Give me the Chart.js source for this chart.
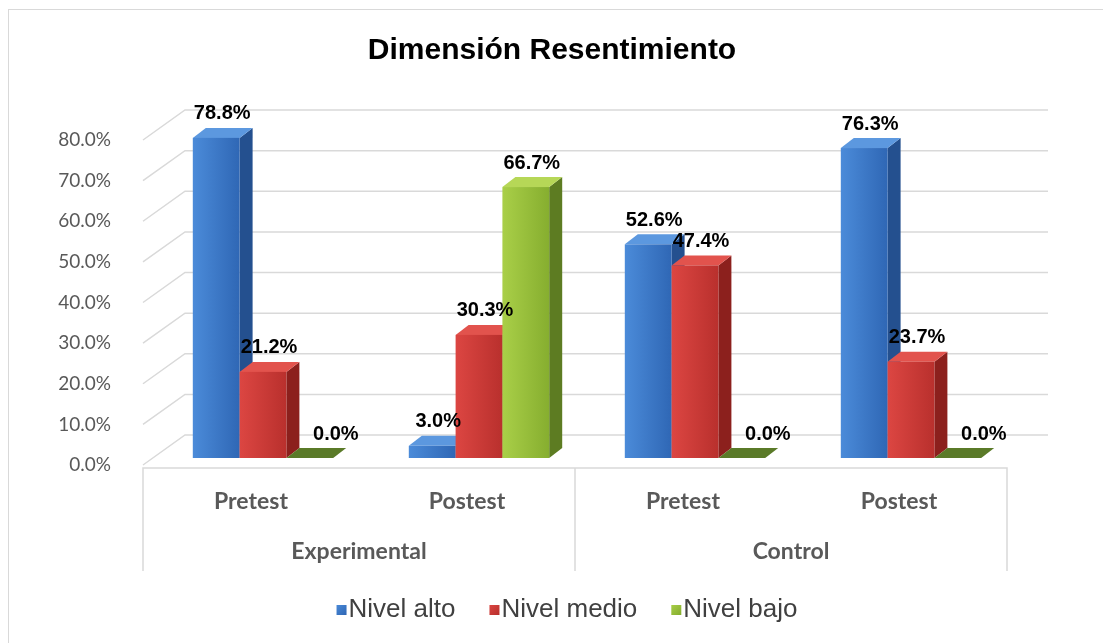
<!DOCTYPE html>
<html>
<head>
<meta charset="utf-8">
<script src="https://cdn.jsdelivr.net/npm/chart.js@4"></script>
<style>
  html, body { margin: 0; padding: 0; background: #ffffff; }
  #grafico { display: block; }
</style>
</head>
<body>
<canvas id="grafico" width="1103" height="643"></canvas>
<script>
const titulo = "Dimensión Resentimiento";
const categorias = ["Pretest", "Postest", "Pretest", "Postest"];
const grupos = ["Experimental", "Control"];
const nivelAlto = [78.8, 3.0, 52.6, 76.3];
const nivelMedio = [21.2, 30.3, 47.4, 23.7];
const nivelBajo = [0.0, 66.7, 0.0, 0.0];
const yMin = 0, yMax = 80, yPaso = 10;

// colores de cada serie: frente (izq, der), lado, tapa
const colores = [
  { front: ["#4b8bd9", "#2f67b5"], side: "#24508f", top: "#5c98df", flat: "#2f67b5" },
  { front: ["#dc4642", "#b9302d"], side: "#8c201d", top: "#e2534d", flat: "#b9302d" },
  { front: ["#a9cf48", "#86ae2f"], side: "#5d7c22", top: "#b6d757", flat: "#5a7a28" }
];

const OX = 12, OY = -7;      // desplazamiento de las barras respecto al plano frontal
const DX = 13, DY = -10;     // profundidad de cada barra
const PX = 42, PY = -30;     // profundidad de la pared del fondo
const gris = "#d9d9d9";

const fondo3d = {
  id: "fondo3d",
  beforeDraw(chart) {
    const ctx = chart.ctx;
    ctx.save();
    ctx.strokeStyle = "#d9d9d9";
    ctx.lineWidth = 1;
    ctx.strokeRect(8.5, 9.5, 1200, 700);
    ctx.restore();
  },
  beforeDatasetsDraw(chart) {
    const ctx = chart.ctx;
    const a = chart.chartArea;
    const y = chart.scales.y;
    const x = chart.scales.x;
    ctx.save();
    ctx.strokeStyle = gris;
    ctx.lineWidth = 1.5;
    y.ticks.forEach(t => {
      const py = y.getPixelForValue(t.value);
      ctx.beginPath();
      ctx.moveTo(a.left, py);
      ctx.lineTo(a.left + PX, py + PY);
      ctx.lineTo(a.right + PX - 1, py + PY);
      ctx.stroke();
    });
    // caja de categorias
    const bottom = a.bottom + 3;
    const fin = bottom + 103;
    const medio = (x.getPixelForValue(1) + x.getPixelForValue(2)) / 2;
    ctx.beginPath();
    ctx.moveTo(a.left, fin);
    ctx.lineTo(a.left, bottom);
    ctx.lineTo(a.right, bottom);
    ctx.lineTo(a.right, fin);
    ctx.moveTo(medio, bottom);
    ctx.lineTo(medio, fin);
    ctx.stroke();

    // etiquetas de categorias y grupos
    ctx.fillStyle = "#595959";
    ctx.textAlign = "center";
    ctx.textBaseline = "middle";
    ctx.font = "bold 23px Lato";
    categorias.forEach((c, i) => {
      ctx.fillText(c, x.getPixelForValue(i), bottom + 34);
    });
    grupos.forEach((g, i) => {
      const cx = (x.getPixelForValue(i * 2) + x.getPixelForValue(i * 2 + 1)) / 2;
      ctx.fillText(g, cx, bottom + 84);
    });

    // titulo
    ctx.fillStyle = "#000000";
    ctx.font = "bold 30px 'Liberation Sans', Arial";
    ctx.fillText(titulo, 552, 51);
    ctx.restore();
  },
  afterDatasetsDraw(chart) {
    const ctx = chart.ctx;
    ctx.save();
    chart.data.datasets.forEach((ds, di) => {
      const meta = chart.getDatasetMeta(di);
      const col = colores[di];
      meta.data.forEach(el => {
        const p = el.getProps(["x", "y", "base", "width"], true);
        const l = p.x - p.width / 2 + OX;
        const r = p.x + p.width / 2 + OX;
        const t = p.y + OY;
        const b = p.base + OY;
        if (b - t < 1) {
          ctx.fillStyle = col.flat;
          ctx.beginPath();
          ctx.moveTo(l, b);
          ctx.lineTo(l + DX, b + DY);
          ctx.lineTo(r + DX, b + DY);
          ctx.lineTo(r, b);
          ctx.closePath();
          ctx.fill();
          return;
        }
        // lado
        ctx.fillStyle = col.side;
        ctx.beginPath();
        ctx.moveTo(r, b);
        ctx.lineTo(r + DX, b + DY);
        ctx.lineTo(r + DX, t + DY);
        ctx.lineTo(r, t);
        ctx.closePath();
        ctx.fill();
        // tapa
        ctx.fillStyle = col.top;
        ctx.beginPath();
        ctx.moveTo(l, t);
        ctx.lineTo(l + DX, t + DY);
        ctx.lineTo(r + DX, t + DY);
        ctx.lineTo(r, t);
        ctx.closePath();
        ctx.fill();
        // frente
        const g = ctx.createLinearGradient(l, 0, r, 0);
        g.addColorStop(0, col.front[0]);
        g.addColorStop(1, col.front[1]);
        ctx.fillStyle = g;
        ctx.fillRect(l, t, r - l, b - t);
      });
    });

    // etiquetas de datos
    ctx.fillStyle = "#000000";
    ctx.font = "bold 20px 'Liberation Sans', Arial";
    ctx.textAlign = "center";
    ctx.textBaseline = "middle";
    chart.data.datasets.forEach((ds, di) => {
      const meta = chart.getDatasetMeta(di);
      meta.data.forEach((el, i) => {
        const v = ds.data[i];
        const p = el.getProps(["x", "y"], true);
        const extra = v === 0 ? 20 : 0;
        ctx.fillText(v.toFixed(1) + "%", p.x + OX + 6 + extra, p.y + OY - 24);
      });
    });

    // leyenda
    ctx.font = "26px 'Liberation Sans', Arial";
    ctx.textAlign = "left";
    const anchos = chart.data.datasets.map(ds => 12 + ctx.measureText(ds.label).width);
    const sep = 34;
    const total = anchos.reduce((s, w) => s + w, 0) + sep * (anchos.length - 1);
    let lx = 567 - total / 2;
    const ly = 609;
    chart.data.datasets.forEach((ds, di) => {
      const col = colores[di];
      const g = ctx.createLinearGradient(lx, ly - 5, lx + 10, ly + 5);
      g.addColorStop(0, col.front[0]);
      g.addColorStop(1, col.front[1]);
      ctx.fillStyle = g;
      ctx.fillRect(lx, ly - 4, 10, 10);
      ctx.fillStyle = "#404040";
      ctx.fillText(ds.label, lx + 12, ly + 1);
      lx += anchos[di] + sep;
    });
    ctx.restore();
  }
};

const ctx = document.getElementById("grafico").getContext("2d");
new Chart(ctx, {
  type: "bar",
  data: {
    labels: categorias,
    datasets: [
      { label: "Nivel alto", data: nivelAlto, backgroundColor: "rgba(0,0,0,0)" },
      { label: "Nivel medio", data: nivelMedio, backgroundColor: "rgba(0,0,0,0)" },
      { label: "Nivel bajo", data: nivelBajo, backgroundColor: "rgba(0,0,0,0)" }
    ]
  },
  options: {
    responsive: false,
    animation: false,
    layout: { padding: { left: 0, top: 140, right: 96, bottom: 178 } },
    datasets: { bar: { categoryPercentage: 0.65, barPercentage: 1.0 } },
    plugins: {
      legend: { display: false },
      title: { display: false },
      tooltip: { enabled: false }
    },
    scales: {
      x: { display: false },
      y: {
        min: yMin,
        max: yMax,
        afterFit(scale) { scale.width = 143; },
        grid: { display: false },
        border: { display: false },
        ticks: {
          stepSize: yPaso,
          padding: 24,
          color: "#595959",
          font: { family: "Lato", size: 19 },
          callback: v => v.toFixed(1) + "%"
        }
      }
    }
  },
  plugins: [fondo3d]
});
</script>
</body>
</html>
